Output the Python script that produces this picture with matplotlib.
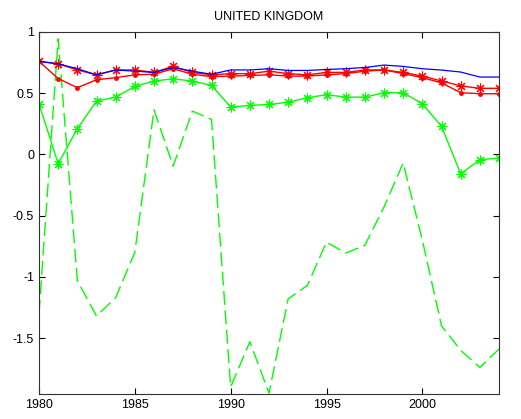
import matplotlib
matplotlib.use("Agg")
import matplotlib.pyplot as plt
import numpy as np

plt.rcParams['font.family'] = ['Liberation Sans', 'DejaVu Sans']

years = np.arange(1980, 2005)

# Red series with asterisk markers
red_star = [0.76, 0.74, 0.69, 0.65, 0.69, 0.69, 0.67, 0.72, 0.67, 0.65,
            0.66, 0.66, 0.68, 0.66, 0.65, 0.67, 0.67, 0.69, 0.69, 0.67,
            0.64, 0.60, 0.56, 0.54, 0.54]
# Red series with point markers
red_dot = [0.76, 0.62, 0.545, 0.61, 0.627, 0.65, 0.655, 0.70, 0.655, 0.635,
           0.64, 0.645, 0.65, 0.64, 0.64, 0.65, 0.66, 0.68, 0.69, 0.66,
           0.627, 0.585, 0.504, 0.496, 0.496]
# Blue reference line
blue = [0.76, 0.74, 0.70, 0.65, 0.69, 0.68, 0.67, 0.71, 0.68, 0.655,
        0.69, 0.69, 0.70, 0.686, 0.686, 0.694, 0.70, 0.71, 0.73, 0.719,
        0.70, 0.689, 0.673, 0.632, 0.632]
# Green series with asterisk markers
green_star = [0.414, -0.076, 0.21, 0.436, 0.468, 0.556, 0.599, 0.618, 0.599, 0.564,
              0.387, 0.40, 0.408, 0.427, 0.463, 0.488, 0.468, 0.468, 0.504, 0.504,
              0.414, 0.229, -0.158, -0.043, -0.03]
# Green dashed series
green_dash = [-1.30, 0.945, -1.03, -1.32, -1.17, -0.80, 0.365, -0.096, 0.354, 0.286,
              -1.90, -1.53, -1.95, -1.18, -1.07, -0.716, -0.806, -0.743, -0.43, -0.07,
              -0.70, -1.40, -1.60, -1.74, -1.59]

xticks = [1980, 1985, 1990, 1995, 2000]
yticks = [-1.5, -1, -0.5, 0, 0.5, 1]
ytick_labels = ["-1.5", "-1", "-0.5", "0", "0.5", "1"]

fig = plt.figure(figsize=(5.21, 4.19), dpi=100)
ax = fig.add_axes([39 / 521, 1 - 394 / 419, 460 / 521, 362 / 419])

red = (1, 0, 0)
grn = (0, 1, 0)
asterisk = (8, 2, 0)
ax.plot(years, green_dash, color=grn, lw=1.0, dashes=(10, 4))
ax.plot(years, green_star, color=grn, lw=1.0, marker=asterisk, ms=7, mew=0.8)
ax.plot(years, red_dot, color=red, lw=1.0, marker='.', ms=5)
ax.plot(years, red_star, color=red, lw=1.0, marker=asterisk, ms=7, mew=0.8)
ax.plot(years, blue, color=(0, 0, 1), lw=0.9)

ax.set_xlim(1980, 2004)
ax.set_ylim(-1.957, 1.0)
ax.set_xticks(xticks)
ax.set_yticks(yticks)
ax.set_yticklabels(ytick_labels)
ax.tick_params(direction='in', length=4, labelsize=9, top=True, right=True,
               width=0.8)
for s in ax.spines.values():
    s.set_linewidth(0.8)
    s.set_color('#333333')
ax.set_title("UNITED KINGDOM", fontsize=9, pad=9)

fig.savefig("out.png", dpi=100, facecolor='white')
